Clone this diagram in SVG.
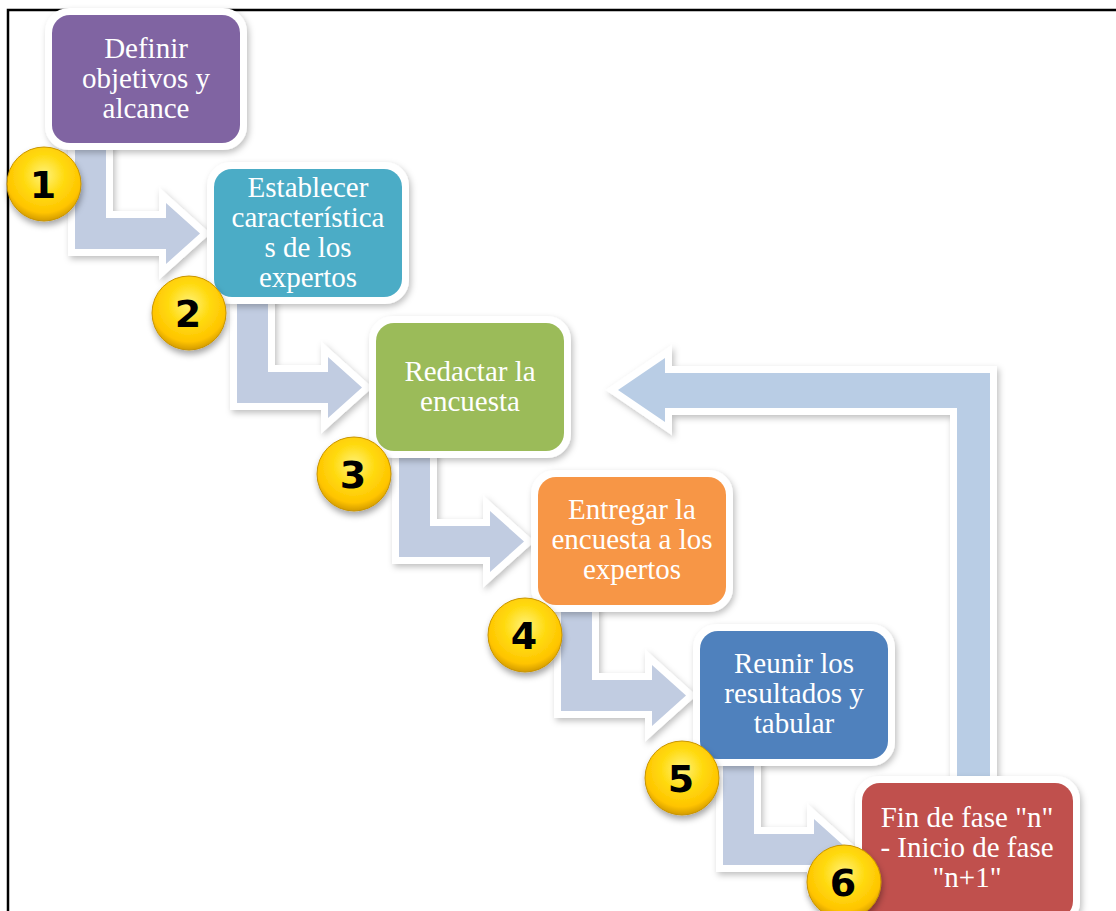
<svg xmlns="http://www.w3.org/2000/svg" width="1116" height="911" viewBox="0 0 1116 911">
<defs>
<style>
.frame{fill:none;stroke:#000;stroke-width:2.5}
.shell{fill:#fff;filter:url(#sh)}
.txt{font-family:"Liberation Serif","Times New Roman",serif;font-size:29px;fill:#fff;text-anchor:middle}
.step{fill:#C1CCE1;stroke:#fff;stroke-width:14;stroke-linejoin:miter;paint-order:stroke;filter:url(#sh)}
.back{fill:#B9CDE5;stroke:#fff;stroke-width:14;stroke-linejoin:miter;paint-order:stroke;filter:url(#sh)}
.badge{fill:url(#gold);stroke:#C89400;stroke-width:1;filter:url(#bsh)}
.num{font-family:"DejaVu Sans","Liberation Sans",sans-serif;font-weight:bold;font-size:38px;fill:#000;text-anchor:middle}
</style>
<filter id="sh" x="-20%" y="-20%" width="140%" height="140%">
<feDropShadow dx="2" dy="3" stdDeviation="3" flood-color="#000" flood-opacity="0.25"/>
</filter>
<filter id="bsh" x="-30%" y="-30%" width="160%" height="160%">
<feDropShadow dx="1" dy="4" stdDeviation="3" flood-color="#000" flood-opacity="0.35"/>
</filter>
<radialGradient id="gold" cx="50%" cy="38%" r="62%">
<stop offset="0" stop-color="#FFF27A"/>
<stop offset="0.45" stop-color="#FFDA10"/>
<stop offset="0.82" stop-color="#FFC400"/>
<stop offset="1" stop-color="#D39B00"/>
</radialGradient>
</defs>
<rect width="1116" height="911" fill="#fff"/>
<path class="frame" d="M8,911 L8,10 L1116,10"/>

<g id="connectors">
<path class="step" d="M75,140 L106,140 L106,218 L166,218 L166,203 L200,233.5 L166,264 L166,249 L75,249 Z"/>
<path class="step" transform="translate(162,154)" d="M75,140 L106,140 L106,218 L166,218 L166,203 L200,233.5 L166,264 L166,249 L75,249 Z"/>
<path class="step" transform="translate(324,308)" d="M75,140 L106,140 L106,218 L166,218 L166,203 L200,233.5 L166,264 L166,249 L75,249 Z"/>
<path class="step" transform="translate(486,462)" d="M75,140 L106,140 L106,218 L166,218 L166,203 L200,233.5 L166,264 L166,249 L75,249 Z"/>
<path class="step" transform="translate(648,616)" d="M75,140 L106,140 L106,218 L166,218 L166,203 L200,233.5 L166,264 L166,249 L75,249 Z"/>
<path class="back" d="M957,795 L957,408 L665,408 L665,422 L618,390 L665,358 L665,373 L990,373 L990,795 Z"/>
</g>

<g id="node1">
<rect class="shell" x="45" y="8" width="202" height="142" rx="24"/>
<rect x="52" y="15" width="188" height="128" rx="18" fill="#8064A2"/>
<text class="txt" x="146" y="58">Definir</text>
<text class="txt" x="146" y="88">objetivos y</text>
<text class="txt" x="146" y="118">alcance</text>
<circle class="badge" cx="44" cy="184" r="37"/>
<text class="num" x="43" y="198">1</text>
</g>

<g id="node2">
<rect class="shell" x="207" y="162" width="202" height="142" rx="24"/>
<rect x="214" y="169" width="188" height="128" rx="18" fill="#4BACC6"/>
<text class="txt" x="308" y="197">Establecer</text>
<text class="txt" x="308" y="227">característica</text>
<text class="txt" x="308" y="257">s de los</text>
<text class="txt" x="308" y="287">expertos</text>
<circle class="badge" cx="189" cy="313" r="37"/>
<text class="num" x="188" y="327">2</text>
</g>

<g id="node3">
<rect class="shell" x="369" y="316" width="202" height="142" rx="24"/>
<rect x="376" y="323" width="188" height="128" rx="18" fill="#9BBB59"/>
<text class="txt" x="470" y="381">Redactar la</text>
<text class="txt" x="470" y="411">encuesta</text>
<circle class="badge" cx="354" cy="474" r="37"/>
<text class="num" x="353" y="488">3</text>
</g>

<g id="node4">
<rect class="shell" x="531" y="470" width="202" height="142" rx="24"/>
<rect x="538" y="477" width="188" height="128" rx="18" fill="#F79646"/>
<text class="txt" x="632" y="519">Entregar la</text>
<text class="txt" x="632" y="549">encuesta a los</text>
<text class="txt" x="632" y="579">expertos</text>
<circle class="badge" cx="525" cy="635" r="37"/>
<text class="num" x="524" y="649">4</text>
</g>

<g id="node5">
<rect class="shell" x="693" y="624" width="202" height="142" rx="24"/>
<rect x="700" y="631" width="188" height="128" rx="18" fill="#4F81BD"/>
<text class="txt" x="794" y="673">Reunir los</text>
<text class="txt" x="794" y="703">resultados y</text>
<text class="txt" x="794" y="733">tabular</text>
<circle class="badge" cx="682" cy="778" r="37"/>
<text class="num" x="681" y="792">5</text>
</g>

<g id="node6">
<rect class="shell" x="855" y="776" width="225" height="150" rx="24"/>
<rect x="862" y="783" width="211" height="136" rx="18" fill="#C0504D"/>
<text class="txt" x="967" y="827">Fin de fase "n"</text>
<text class="txt" x="967" y="857">- Inicio de fase</text>
<text class="txt" x="967" y="887">"n+1"</text>
<circle class="badge" cx="844" cy="882" r="37"/>
<text class="num" x="843" y="896">6</text>
</g>
</svg>
